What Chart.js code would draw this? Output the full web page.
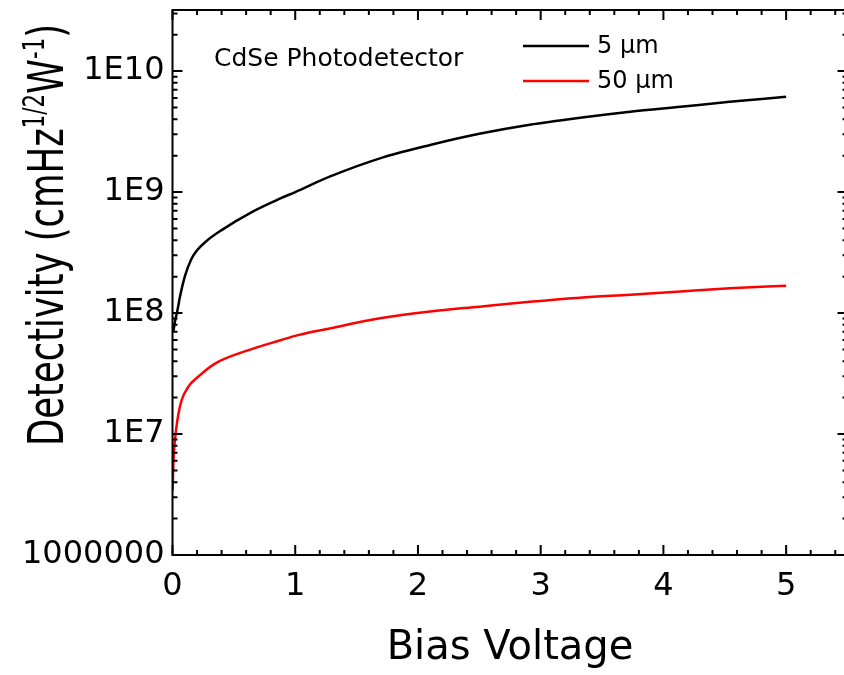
<!DOCTYPE html>
<html><head><meta charset="utf-8">
<script src="https://cdn.jsdelivr.net/npm/chart.js@4.4.1/dist/chart.umd.min.js"></script>
<style>
html,body{margin:0;padding:0;background:#fff;overflow:hidden;width:844px;height:675px;}
#c{display:block;}
</style></head><body>
<canvas id="c" width="850" height="675"></canvas>
<script>
// ---- data ----
const seriesLabels = ['5 µm', '50 µm'];
const seriesColors = ['#000000', '#ff0000'];
const biasBlack = [0.007, 0.02, 0.04, 0.06, 0.1, 0.15, 0.2, 0.27, 0.4, 0.65, 0.88, 1.0, 1.28, 1.69, 2.1, 2.5, 2.91, 3.32, 3.73, 4.14, 4.54, 5.0];
const detBlack  = [7.0e7, 8.5e7, 1.05e8, 1.35e8, 2.0e8, 2.75e8, 3.3e8, 3.89e8, 4.85e8, 6.87e8, 8.87e8, 1.0e9, 1.34e9, 1.90e9, 2.45e9, 3.03e9, 3.60e9, 4.11e9, 4.61e9, 5.07e9, 5.57e9, 6.14e9];
const biasRed   = [0.001, 0.007, 0.02, 0.06, 0.13, 0.21, 0.35, 0.62, 0.88, 1.03, 1.28, 1.69, 2.1, 2.5, 2.91, 3.32, 3.73, 4.14, 4.54, 5.0];
const detRed    = [3.4e6, 5.7e6, 8.9e6, 1.68e7, 2.46e7, 2.98e7, 3.84e7, 4.94e7, 5.96e7, 6.6e7, 7.46e7, 9.04e7, 1.03e8, 1.13e8, 1.24e8, 1.34e8, 1.42e8, 1.51e8, 1.60e8, 1.68e8];
const xTickValues = [0, 1, 2, 3, 4, 5];
const xTickLabels = ['0', '1', '2', '3', '4', '5'];
const yTickValues = [1e6, 1e7, 1e8, 1e9, 1e10];
const yTickLabels = ['1000000', '1E7', '1E8', '1E9', '1E10'];
const annotationText = 'CdSe Photodetector';
const xTitle = 'Bias Voltage';
const yTitleParts = [['Detectivity (cmHz', false], ['1/2', true], ['W', false], ['-1', true], [')', false]];

const FONT = "'DejaVu Sans', 'Liberation Sans', Arial, sans-serif";

// ---- plugins ----
const framePlugin = {
  id: 'frame',
  afterDatasetsDraw(chart) {
    const {ctx, chartArea: a, scales: {x, y}} = chart;
    ctx.save();
    ctx.strokeStyle = '#000';
    ctx.lineWidth = 2;
    ctx.strokeRect(a.left, a.top, a.right - a.left, a.bottom - a.top);
    ctx.beginPath();
    for (let i = 0; i <= 55; i += 2) {
      const px = x.getPixelForValue(i / 10);
      const len = (i % 10 === 0) ? 10 : 5;
      ctx.moveTo(px, a.bottom); ctx.lineTo(px, a.bottom - len);
      ctx.moveTo(px, a.top); ctx.lineTo(px, a.top + len);
    }
    for (let e = 6; e <= 10; e++) {
      for (let m = 1; m <= 9; m++) {
        const v = m * Math.pow(10, e);
        if (v > y.max) continue;
        const py = y.getPixelForValue(v);
        const len = m === 1 ? 10 : 5;
        ctx.moveTo(a.left, py); ctx.lineTo(a.left + len, py);
        ctx.moveTo(a.right, py); ctx.lineTo(a.right - len, py);
      }
    }
    ctx.stroke();

    // legend
    ctx.font = '24px ' + FONT;
    ctx.textBaseline = 'middle';
    ctx.textAlign = 'left';
    chart.data.datasets.forEach((ds, i) => {
      const ly = 46 + i * 35;
      ctx.strokeStyle = ds.borderColor;
      ctx.lineWidth = 2.5;
      ctx.beginPath(); ctx.moveTo(523, ly); ctx.lineTo(589, ly); ctx.stroke();
      ctx.fillStyle = '#000';
      ctx.fillText(ds.label, 597, ly + 1);
    });

    // annotation
    ctx.font = '25px ' + FONT;
    ctx.textBaseline = 'alphabetic';
    ctx.fillText(annotationText, 214, 66);

    // y title with superscripts, condensed along its length
    const mainF = '50px ' + FONT, supF = '30px ' + FONT;
    let total = 0;
    yTitleParts.forEach(([t, sup]) => { ctx.font = sup ? supF : mainF; total += ctx.measureText(t).width; });
    const targetLen = 422;
    ctx.translate(63, 446);
    ctx.rotate(-Math.PI / 2);
    ctx.scale(targetLen / total, 1);
    let cx = 0;
    yTitleParts.forEach(([t, sup]) => {
      ctx.font = sup ? supF : mainF;
      ctx.fillText(t, cx, sup ? -19 : 0);
      cx += ctx.measureText(t).width;
    });
    ctx.restore();
  }
};

new Chart(document.getElementById('c'), {
  type: 'scatter',
  data: {
    datasets: [
      { label: seriesLabels[0], data: biasBlack.map((v, i) => ({x: v, y: detBlack[i]})),
        borderColor: seriesColors[0], backgroundColor: seriesColors[0] },
      { label: seriesLabels[1], data: biasRed.map((v, i) => ({x: v, y: detRed[i]})),
        borderColor: seriesColors[1], backgroundColor: seriesColors[1] }
    ]
  },
  options: {
    responsive: false,
    devicePixelRatio: 1,
    animation: false,
    showLine: true,
    layout: { padding: { top: 10, right: 2.5, left: 0, bottom: 0 } },
    elements: {
      point: { radius: 0, hoverRadius: 0 },
      line: { borderWidth: 2.5, cubicInterpolationMode: 'monotone' }
    },
    plugins: { legend: { display: false }, tooltip: { enabled: false } },
    scales: {
      x: {
        type: 'linear', min: 0, max: 5.5,
        afterBuildTicks: s => { s.ticks = xTickValues.map(v => ({value: v})); },
        afterFit: s => { s.height = 120; s.paddingLeft = 0; s.paddingRight = 0; },
        grid: { display: false, drawTicks: false },
        border: { display: false },
        ticks: { color: '#000', font: { family: FONT, size: 32 }, padding: 12,
                 maxRotation: 0, autoSkip: false,
                 callback: v => { const i = xTickValues.indexOf(v); return i >= 0 ? xTickLabels[i] : ''; } },
        title: { display: true, text: xTitle, color: '#000', font: { family: FONT, size: 40 },
                 padding: { top: 0, bottom: 2 } }
      },
      y: {
        type: 'logarithmic', min: 1e6, max: 3.2e10,
        afterBuildTicks: s => { s.ticks = yTickValues.map(v => ({value: v})); },
        afterFit: s => { s.width = 172.5; s.paddingTop = 0; s.paddingBottom = 0; },
        grid: { display: false, drawTicks: false },
        border: { display: false },
        ticks: { color: '#000', font: { family: FONT, size: 32 }, padding: 8, autoSkip: false,
                 callback: v => { const i = yTickValues.indexOf(v); return i >= 0 ? yTickLabels[i] : ''; } }
      }
    }
  },
  plugins: [framePlugin]
});
</script>
</body></html>
